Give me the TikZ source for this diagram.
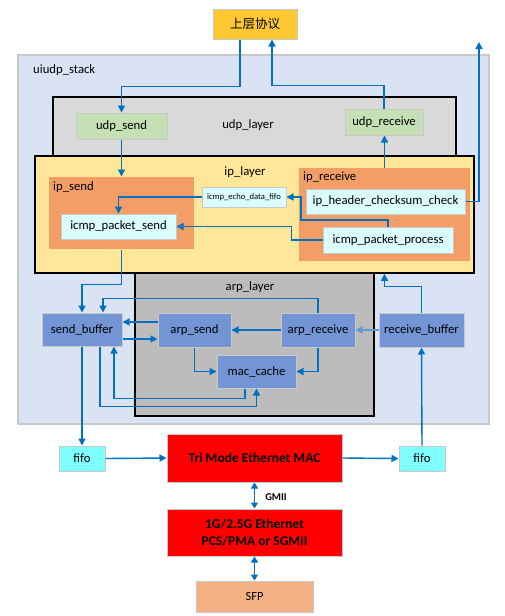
\documentclass[tikz,border=0pt]{standalone}
\usepackage{fontspec}
\setmainfont{Carlito}
\newfontfamily\cjk{Noto Sans CJK SC}
\usetikzlibrary{arrows.meta,calc}
\definecolor{arrblue}{HTML}{0070C0}
\definecolor{lightarr}{HTML}{5B9BD5}
\definecolor{stackfill}{HTML}{DAE3F3}
\definecolor{udpfill}{HTML}{D9D9D9}
\definecolor{ipfill}{HTML}{FFE699}
\definecolor{arpfill}{HTML}{BCBCBC}
\definecolor{greenfill}{HTML}{C5E0B4}
\definecolor{orangefill}{HTML}{F29E66}
\definecolor{cyanfill}{HTML}{DBFDFF}
\definecolor{bluebox}{HTML}{7395D6}
\definecolor{fifofill}{HTML}{80FFFF}
\definecolor{sfpfill}{HTML}{F4B183}
\definecolor{goldfill}{HTML}{FFC832}
\definecolor{boxline}{HTML}{C8C8C8}
\tikzset{
  box/.style={draw=boxline, line width=1pt, inner sep=0pt, font=\fontsize{12.7}{15}\selectfont},
  layerbox/.style={draw=black, line width=1.5pt, inner sep=0pt},
  arr/.style={draw=arrblue, line width=1.4pt, -{Triangle[length=7pt,width=7pt]}},
  darr/.style={draw=arrblue, line width=1.4pt, {Triangle[length=6pt,width=7pt]}-{Triangle[length=6pt,width=7pt]}},
  lbl/.style={inner sep=0pt, font=\fontsize{12.7}{15}\selectfont},
}
\begin{document}
\begin{tikzpicture}[x=1pt,y=-1pt]
\useasboundingbox[fill=white] (0,0) rectangle (505,616);
% containers
\node[draw=boxline, line width=1.2pt, fill=stackfill, minimum width=471pt, minimum height=369pt] (stack) at (253.5,239.5) {};
\node[lbl, anchor=west] (stacklbl) at (33,70) {uiudp\_stack};
\node[layerbox, fill=udpfill, minimum width=403pt, minimum height=73pt] (udplayer) at (254.5,133.5) {};
\node[lbl] (udplbl) at (248,125) {udp\_layer};
\node[layerbox, fill=arpfill, minimum width=239pt, minimum height=151pt] (arplayer) at (254.5,340.5) {};
\node[layerbox, fill=ipfill, minimum width=439pt, minimum height=117pt] (iplayer) at (254.5,214.5) {};
\node[lbl] (iplbl) at (245,172) {ip\_layer};
\node[lbl] (arplbl) at (250,287) {arp\_layer};
% top
\node[box, fill=goldfill, minimum width=84pt, minimum height=30pt, font=\cjk\fontsize{12.5}{15}\selectfont] (up) at (255,24) {上层协议};
% udp
\node[box, fill=greenfill, minimum width=91pt, minimum height=26pt] (udpsend) at (121.5,126) {udp\_send};
\node[box, fill=greenfill, minimum width=78pt, minimum height=26pt] (udprecv) at (384,122) {udp\_receive};
% ip
\node[box, draw=none, fill=orangefill, minimum width=145pt, minimum height=72pt] (ipsend) at (121.5,213) {};
\node[lbl, anchor=west] (ipsendlbl) at (53,187) {ip\_send};
\node[box, fill=cyanfill, minimum width=115pt, minimum height=25pt] (icmpsend) at (118.5,226.5) {icmp\_packet\_send};
\node[box, fill=cyanfill, minimum width=84pt, minimum height=20pt, font=\fontsize{8.6}{10}\selectfont] (echofifo) at (244,197) {icmp\_echo\_data\_fifo};
\node[box, draw=none, fill=orangefill, minimum width=171pt, minimum height=93pt] (iprecv) at (384.5,214.5) {};
\node[lbl, anchor=west] (iprecvlbl) at (303,177) {ip\_receive};
\node[box, fill=cyanfill, minimum width=159pt, minimum height=25pt] (checksum) at (385.5,201.5) {ip\_header\_checksum\_check};
\node[box, fill=cyanfill, minimum width=130pt, minimum height=26pt] (process) at (388,240) {icmp\_packet\_process};
% arp
\node[box, fill=bluebox, minimum width=80pt, minimum height=33pt] (sendbuf) at (82,329.5) {send\_buffer};
\node[box, fill=bluebox, minimum width=73pt, minimum height=34pt] (arpsend) at (194.5,330) {arp\_send};
\node[box, fill=bluebox, minimum width=74pt, minimum height=34pt] (arprecv) at (318,330) {arp\_receive};
\node[box, fill=bluebox, minimum width=85pt, minimum height=34pt] (recvbuf) at (421.5,330) {receive\_buffer};
\node[box, fill=bluebox, minimum width=79pt, minimum height=33pt] (maccache) at (256.5,371.5) {mac\_cache};
% bottom
\node[box, fill=fifofill, minimum width=46pt, minimum height=25pt] (fifol) at (82,458.5) {fifo};
\node[box, fill=fifofill, minimum width=46pt, minimum height=25pt] (fifor) at (422,458.5) {fifo};
\node[box, fill=red, minimum width=175pt, minimum height=48pt, font=\bfseries\fontsize{13.5}{16}\selectfont] (mac) at (254.5,458) {Tri Mode Ethernet MAC};
\node[box, fill=red, minimum width=175pt, minimum height=47pt, align=center, font=\bfseries\fontsize{13.5}{17}\selectfont] (pcs) at (254.5,532.5) {1G/2.5G Ethernet\\PCS/PMA or SGMII};
\node[box, fill=sfpfill, minimum width=117pt, minimum height=31pt, font=\fontsize{12.5}{14}\selectfont] (sfp) at (254.5,596.5) {SFP};
\node[lbl, font=\bfseries\fontsize{10.5}{12}\selectfont] (gmii) at (276,497) {GMII};
\coordinate (outr) at (479,42);
% connectors
\draw[arr] ([xshift=-15pt]up.south) -- ++(0,47) -| (udpsend.north);
\draw[arr] (udprecv.north) -- ++(0,-23) -| ([xshift=17pt]up.south);
\draw[arr] (udpsend.south) -- (udpsend.south |- ipsend.north);
\draw[arr] (iprecv.north) -- (iprecv.north |- udprecv.south);
\draw[arr] (checksum.east) -| (outr);
\draw[arr] (echofifo.west) -| (icmpsend.north);
\draw[arr] (process.north) |- (301,220) |- (echofifo.east);
\draw[arr] (process.west) -- ++(-31,0) |- (icmpsend.east);
\draw[arr] (ipsend.south) -- ++(0,35) -| (sendbuf.north);
\draw[arr] (arprecv.north) -- ++(0,-14) -| ([xshift=21pt]sendbuf.north);
\draw[arr] ($(arpsend.west)+(0,-8)$) -- ($(sendbuf.east)+(0,-7.5)$);
\draw[arr] ($(sendbuf.east)+(0,9.5)$) -- ($(arpsend.west)+(0,9)$);
\draw[arr] (arprecv.west) -- (arpsend.east);
\draw[arr, draw=lightarr] (recvbuf.west) -- (arprecv.east);
\draw[arr] (arpsend.south) |- (maccache.west);
\draw[arr] (arprecv.south) |- (maccache.east);
\draw[arr] ($(maccache.south)+(-11.5,0)$) -- ++(0,10) -| ($(sendbuf.south)+(32,0)$);
\draw[arr] ($(sendbuf.south)+(18,0)$) -- ++(0,60) -| (maccache.south);
\draw[arr] (sendbuf.south) -- (fifol.north);
\draw[arr] (fifor.north) -- (recvbuf.south);
\draw[arr] (recvbuf.north) -- ++(0,-26) -| (iprecv.south |- iplayer.south);
\draw[arr] (fifol.east) -- (mac.west);
\draw[arr] (mac.east) -- (fifor.west);
\draw[darr] (mac.south) -- (pcs.north);
\draw[darr] (pcs.south) -- (sfp.north);
\end{tikzpicture}
\end{document}
